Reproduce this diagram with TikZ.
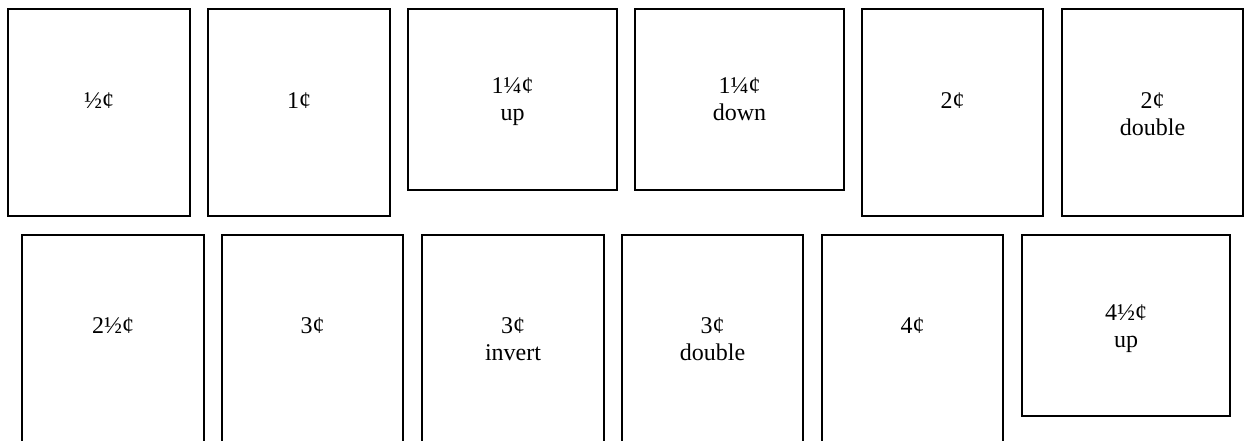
\documentclass[tikz,border=0pt]{standalone}
\usepackage{fontspec}
\setmainfont{Liberation Serif}
\begin{document}
\begin{tikzpicture}[x=1pt,y=-1pt,
  stampbox/.style={draw=black,line width=1.4pt,rectangle,inner sep=0pt},
  stamplabel/.style={anchor=base,align=center,inner sep=0pt,font=\fontsize{24}{27}\selectfont}]
\clip (0,0) rectangle (1245,440);
\fill[white] (0,0) rectangle (1245,440);
% row 1
\node[stampbox,minimum width=182pt,minimum height=207pt] (b1) at (99,112.5) {};
\node[stampbox,minimum width=182pt,minimum height=207pt] (b2) at (299,112.5) {};
\node[stampbox,minimum width=209pt,minimum height=181pt] (b3) at (512.5,99.5) {};
\node[stampbox,minimum width=209pt,minimum height=181pt] (b4) at (739.5,99.5) {};
\node[stampbox,minimum width=181pt,minimum height=207pt] (b5) at (952.5,112.5) {};
\node[stampbox,minimum width=181pt,minimum height=207pt] (b6) at (1152.5,112.5) {};
% row 2
\node[stampbox,minimum width=182pt,minimum height=209pt] (b7) at (113,339.5) {};
\node[stampbox,minimum width=181pt,minimum height=209pt] (b8) at (312.5,339.5) {};
\node[stampbox,minimum width=182pt,minimum height=209pt] (b9) at (513,339.5) {};
\node[stampbox,minimum width=181pt,minimum height=209pt] (b10) at (712.5,339.5) {};
\node[stampbox,minimum width=181pt,minimum height=209pt] (b11) at (912.5,339.5) {};
\node[stampbox,minimum width=208pt,minimum height=181pt] (b12) at (1126,325.5) {};
% labels
\node[stamplabel] (t1) at (99,108) {½¢};
\node[stamplabel] (t2) at (299,108) {1¢};
\node[stamplabel] (t3) at (512.5,120) {1¼¢\\up};
\node[stamplabel] (t4) at (739.5,120) {1¼¢\\down};
\node[stamplabel] (t5) at (952.5,108) {2¢};
\node[stamplabel] (t6) at (1152.5,135) {2¢\\double};
\node[stamplabel] (t7) at (113,333) {2½¢};
\node[stamplabel] (t8) at (312.5,333) {3¢};
\node[stamplabel] (t9) at (513,360) {3¢\\invert};
\node[stamplabel] (t10) at (712.5,360) {3¢\\double};
\node[stamplabel] (t11) at (912.5,333) {4¢};
\node[stamplabel] (t12) at (1126,347) {4½¢\\up};
\end{tikzpicture}
\end{document}
